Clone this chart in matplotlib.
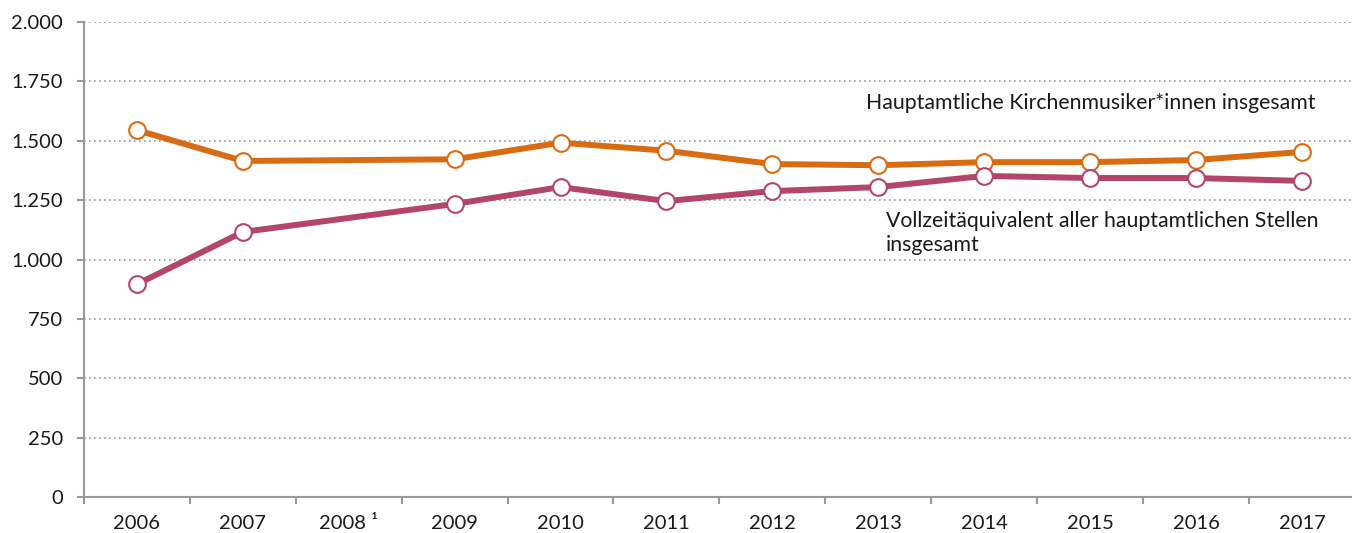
import matplotlib.pyplot as plt
from matplotlib.ticker import FuncFormatter, FixedLocator

plt.rcParams['font.family'] = ['Lato', 'DejaVu Sans']

# Data (2008: no data, line bridges the gap)
years = ["2006", "2007", "2008 ¹", "2009", "2010", "2011", "2012",
         "2013", "2014", "2015", "2016", "2017"]
kirchenmusiker = [1545, 1415, None, 1422, 1492, 1458, 1402,
                  1397, 1410, 1410, 1419, 1453]
vollzeit = [896, 1116, None, 1234, 1305, 1246, 1288,
            1305, 1352, 1343, 1343, 1331]

ORANGE = "#D96C12"
PURPLE = "#B3446C"
GREY = "#999999"

fig = plt.figure(figsize=(13.52, 5.33), dpi=100)
ax = fig.add_axes([0.0621, 0.0675, 0.940, 0.8912])


def plot_series(values, color):
    xs = [i for i, v in enumerate(values) if v is not None]
    ys = [v for v in values if v is not None]
    ax.plot(xs, ys, color=color, lw=4.3, solid_capstyle='round', zorder=3,
            marker='o', markersize=12, markerfacecolor='white',
            markeredgecolor=color, markeredgewidth=1.5)


plot_series(kirchenmusiker, ORANGE)
plot_series(vollzeit, PURPLE)

ax.set_xlim(-0.5, len(years) - 0.5)
ax.set_ylim(0, 2000)
ax.set_yticks(range(0, 2001, 250))
ax.yaxis.set_major_formatter(FuncFormatter(lambda v, p: f"{int(v):,}".replace(",", ".")))
ax.set_xticks(range(len(years)))
ax.set_xticklabels(years)
ax.xaxis.set_minor_locator(FixedLocator([i - 0.5 for i in range(len(years) + 1)]))

ax.grid(axis='y', linestyle=(0, (1, 2)), color='#999999', lw=1.2)
ax.set_axisbelow(True)

for s in ['top', 'right']:
    ax.spines[s].set_visible(False)
for s in ['left', 'bottom']:
    ax.spines[s].set_color(GREY)
    ax.spines[s].set_linewidth(1.5)

ax.tick_params(axis='y', length=5, width=1.5, color=GREY, pad=10,
               labelsize=14.5, labelcolor='#1a1a1a')
ax.tick_params(axis='x', which='major', length=0, pad=13,
               labelsize=14.5, labelcolor='#1a1a1a')
ax.tick_params(axis='x', which='minor', length=5, width=1.5, color=GREY)

ax.text(6.884, 1659, "Hauptamtliche Kirchenmusiker*innen insgesamt",
        fontsize=15.3, color='#1a1a1a', va='center', ha='left')
ax.text(7.073, 1112, "Vollzeitäquivalent aller hauptamtlichen Stellen\ninsgesamt",
        fontsize=15.3, color='#1a1a1a', va='center', ha='left', linespacing=1.2)

fig.savefig("out.png", dpi=100)
